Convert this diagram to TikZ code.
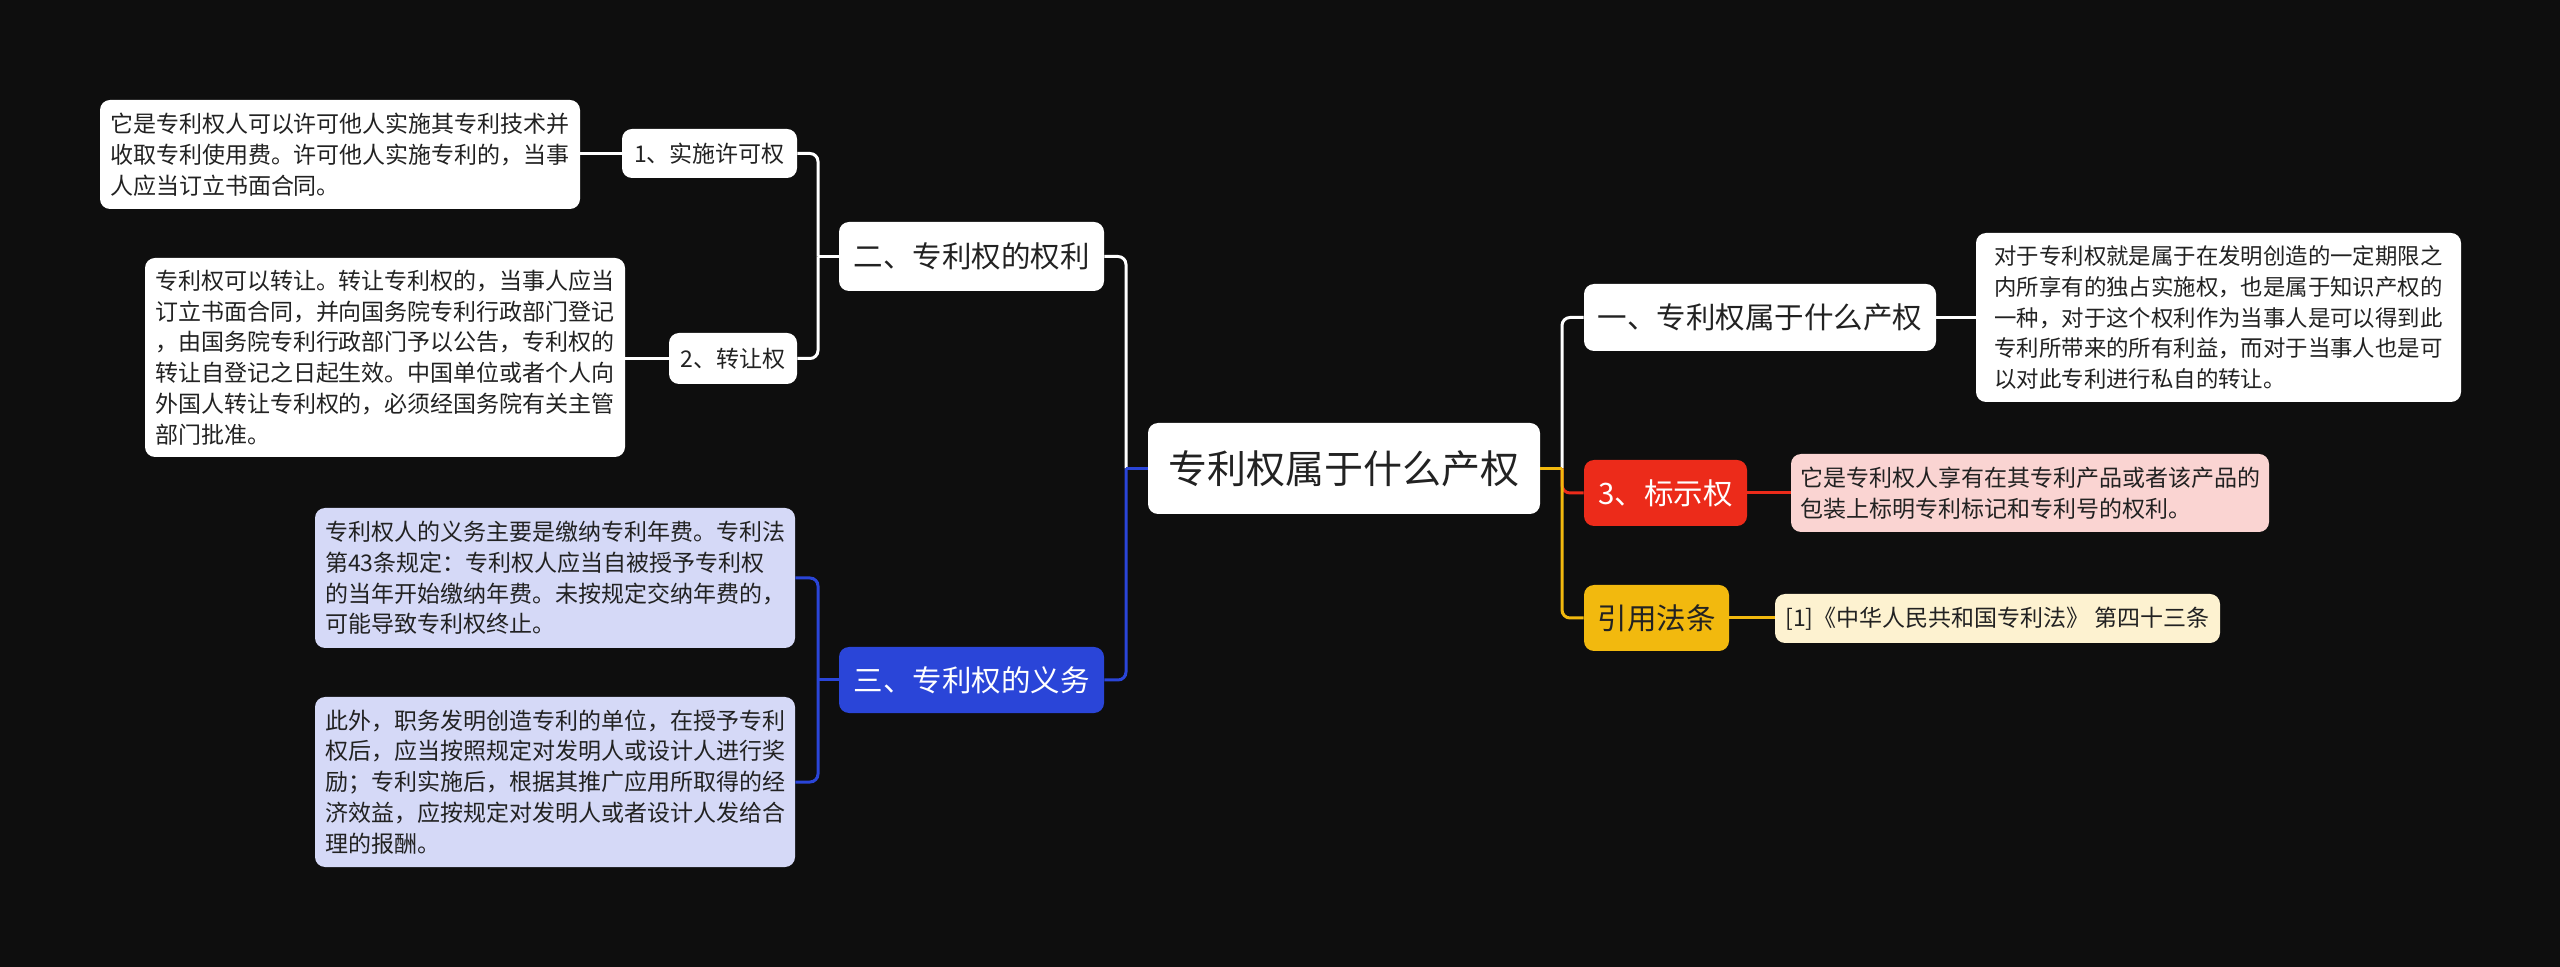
\documentclass[tikz,border=0pt]{standalone}
\usepackage{fontspec}
\setmainfont{Noto Sans CJK SC}
\usepackage{tikz}
\usetikzlibrary{positioning,calc}
\definecolor{bgc}{HTML}{0E0E0E}
\definecolor{oblue}{HTML}{2A45D8}
\definecolor{obluel}{HTML}{D5D9F7}
\definecolor{ored}{HTML}{EC2B1A}
\definecolor{oredl}{HTML}{FAD4D2}
\definecolor{oyel}{HTML}{F2B90E}
\definecolor{oyell}{HTML}{FDF2D0}
\definecolor{ink}{HTML}{222222}

\begin{document}
\begin{tikzpicture}[
    x=0.5pt,y=-0.5pt,
    box/.style={rounded corners=5pt,inner sep=0pt,text=ink,fill=white},
    root/.style={box,font=\fontsize{19.5}{24}\selectfont,minimum width=196pt,minimum height=45.5pt},
    topic/.style={box,font=\fontsize{14.75}{18}\selectfont,minimum height=33pt},
    sub/.style={box,font=\fontsize{11.5}{14}\selectfont,minimum height=25pt},
    note/.style={box,font=\fontsize{11.5}{15.4}\selectfont,align=left,minimum width=240pt},
    link/.style={line width=1.5pt,rounded corners=4pt}
  ]
  \fill[bgc] (0,0) rectangle (2560,967);
  \useasboundingbox (0,0) rectangle (2560,967);

  % centre
  \node[root] (root) at (1344,468.5) {专利权属于什么产权};

  % left side
  \node[topic,minimum width=132.5pt,minimum height=34.5pt] (quanli) at (971.5,256.5) {二、专利权的权利};
  \node[sub,minimum width=87.5pt,minimum height=24.5pt] (xuke) at (709.5,153.5) {1、实施许可权};
  \node[note,minimum height=54.5pt] (xuket) at (340,154.5) {它是专利权人可以许可他人实施其专利技术并\\收取专利使用费。许可他人实施专利的，当事\\人应当订立书面合同。};
  \node[sub,minimum width=64pt,minimum height=25.5pt] (zhuanrang) at (733,358.5) {2、转让权};
  \node[note,minimum height=99.5pt] (zhuanrangt) at (385,357.5) {专利权可以转让。转让专利权的，当事人应当\\订立书面合同，并向国务院专利行政部门登记\\，由国务院专利行政部门予以公告，专利权的\\转让自登记之日起生效。中国单位或者个人向\\外国人转让专利权的，必须经国务院有关主管\\部门批准。};

  \node[topic,fill=oblue,text=white,minimum width=132.5pt] (yiwu) at (971.5,680) {三、专利权的义务};
  \node[note,fill=obluel,minimum height=70pt] (yiwua) at (555,578) {专利权人的义务主要是缴纳专利年费。专利法\\第43条规定：专利权人应当自被授予专利权\\的当年开始缴纳年费。未按规定交纳年费的，\\可能导致专利权终止。};
  \node[note,fill=obluel,minimum height=85pt] (yiwub) at (555,782) {此外，职务发明创造专利的单位，在授予专利\\权后，应当按照规定对发明人或设计人进行奖\\励；专利实施后，根据其推广应用所取得的经\\济效益，应按规定对发明人或者设计人发给合\\理的报酬。};

  % right side
  \node[topic,minimum width=176pt,minimum height=33.5pt] (chanquan) at (1760,317.5) {一、专利权属于什么产权};
  \node[note,font=\fontsize{11.2}{15.4}\selectfont,minimum width=242.5pt,minimum height=84.5pt] (chanquant) at (2218.5,317.5) {对于专利权就是属于在发明创造的一定期限之\\内所享有的独占实施权，也是属于知识产权的\\一种，对于这个权利作为当事人是可以得到此\\专利所带来的所有利益，而对于当事人也是可\\以对此专利进行私自的转让。};
  \node[topic,fill=ored,text=white,minimum width=81.5pt] (biaoshi) at (1665.5,493) {3、标示权};
  \node[note,fill=oredl,minimum width=239pt,minimum height=39pt] (biaoshit) at (2030,493) {它是专利权人享有在其专利产品或者该产品的\\包装上标明专利标记和专利号的权利。};
  \node[topic,fill=oyel,minimum width=72.5pt] (fatiao) at (1656.5,618) {引用法条};
  \node[note,fill=oyell,minimum width=222.5pt,minimum height=24.5pt] (fatiaot) at (1997.5,618.5) {[1]《中华人民共和国专利法》 第四十三条};

  % junctions
  \coordinate (jl) at (1126,468.5);
  \coordinate (jr) at (1562,468.5);
  \coordinate (ja) at (818,256.5);
  \coordinate (jb) at (818,680);

  \draw[link,white] (jl) |- (quanli.east);
  \draw[link,oblue] (jl) |- (yiwu.east);
  \draw[link,oblue] (root.west) -- (jl);

  \draw[link,white] (quanli.west) -- (ja);
  \draw[link,white] (ja) |- (xuke.east);
  \draw[link,white] (ja) |- (zhuanrang.east);
  \draw[link,white] (xuke.west) -- (xuke.west -| xuket.east);
  \draw[link,white] (zhuanrang.west) -- (zhuanrang.west -| zhuanrangt.east);

  \draw[link,oblue] (yiwu.west) -- (jb);
  \draw[link,oblue] (jb) |- (yiwua.east);
  \draw[link,oblue] (jb) |- (yiwub.east);

  \draw[link,white] (jr) |- (chanquan.west);
  \draw[link,ored] (jr) |- (biaoshi.west);
  \draw[link,oyel] (jr) |- (fatiao.west);
  \draw[link,oyel] (root.east) -- (jr);
  \draw[link,white] (chanquan.east) -- (chanquan.east -| chanquant.west);
  \draw[link,ored] (biaoshi.east) -- (biaoshi.east -| biaoshit.west);
  \draw[link,oyel] (fatiao.east) -- (fatiao.east -| fatiaot.west);
\end{tikzpicture}
\end{document}
